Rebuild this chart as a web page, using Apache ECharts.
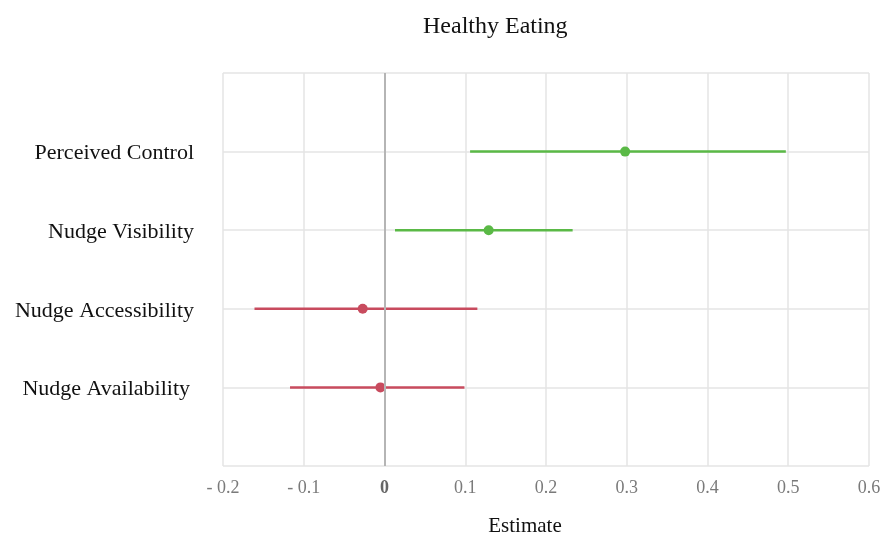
<!DOCTYPE html>
<html><head><meta charset="utf-8">
<script src="https://cdn.jsdelivr.net/npm/echarts@6/dist/echarts.min.js"></script>
<style>html,body{margin:0;padding:0;background:#fff}#c{width:880px;height:536px}</style>
</head><body><div id="c"></div>
<script>
const categories = ['Nudge Availability', 'Nudge Accessibility', 'Nudge Visibility', 'Perceived Control'];
const estimates = [-0.005, -0.027, 0.129, 0.298];
const lowerCI = [-0.117, -0.161, 0.013, 0.106];
const upperCI = [0.099, 0.115, 0.233, 0.497];
const xTicks = [-0.2, -0.1, 0, 0.1, 0.2, 0.3, 0.4, 0.5, 0.6];

const GREEN = '#5ab946', RED = '#c84b5e';
const colorOf = i => (lowerCI[i] > 0 ? GREEN : RED);

const rows = categories.map((c, i) => ({ value: [lowerCI[i], upperCI[i], i + 1, estimates[i]], itemStyle: { color: colorOf(i) } }));
const pts = categories.map((c, i) => ({ value: [estimates[i], i + 1], itemStyle: { color: colorOf(i), opacity: 1 } }));

const font = '"Liberation Serif", "Times New Roman", serif';
const chart = echarts.init(document.getElementById('c'));
chart.setOption({
  animation: false,
  title: { text: 'Healthy Eating', left: 418, top: 10, textStyle: { fontFamily: font, fontSize: 24, fontWeight: 'normal', color: '#111' } },
  grid: { left: 223, right: 11, top: 73, bottom: 70, containLabel: false, outerBoundsMode: 'none' },
  xAxis: {
    type: 'value', min: xTicks[0], max: xTicks[xTicks.length - 1], interval: 0.1,
    name: 'Estimate', nameLocation: 'middle', nameGap: 50,
    nameTextStyle: { fontFamily: font, fontSize: 21, color: '#111', padding: [0, 42, 0, 0] },
    axisLine: { show: false }, axisTick: { show: false },
    axisLabel: {
      margin: 13, fontFamily: font, fontSize: 18, color: '#7a7a7a',
      formatter: v => {
        const r = Math.round(v * 10) / 10;
        if (r === 0) return '{z|0}';
        return r < 0 ? '- ' + Math.abs(r).toFixed(1) : r.toFixed(1);
      },
      rich: { z: { fontFamily: font, fontSize: 18, fontWeight: 'bold', color: '#666' } }
    },
    splitLine: { show: true, lineStyle: { color: '#e4e4e4', width: 1.5 } }
  },
  yAxis: {
    type: 'value', min: 0, max: 5, interval: 1,
    axisLine: { show: false }, axisTick: { show: false },
    axisLabel: {
      margin: 29, fontFamily: font, fontSize: 22, color: '#111',
      formatter: v => {
        const c = categories[v - 1];
        if (!c) return '';
        return v === 1 ? '{p|' + c + '}' : '{n|' + c + '}';
      },
      rich: {
        p: { fontFamily: font, fontSize: 22, color: '#111', padding: [4, 4, 0, 0] },
        n: { fontFamily: font, fontSize: 22, color: '#111', padding: [4, 0, 0, 0] }
      }
    },
    splitLine: { show: true, lineStyle: { color: '#e4e4e4', width: 1.5 } }
  },
  series: [
    {
      type: 'custom',
      data: rows,
      encode: { x: [0, 1], y: 2 },
      renderItem: (params, api) => {
        const a = api.coord([api.value(0), api.value(2)]);
        const b = api.coord([api.value(1), api.value(2)]);
        return { type: 'line', shape: { x1: a[0], y1: a[1], x2: b[0], y2: b[1] }, style: { stroke: api.visual('color'), lineWidth: 2.5 } };
      },
      markLine: {
        silent: true, symbol: 'none', label: { show: false },
        lineStyle: { color: '#b5b5b5', width: 2, type: 'solid' },
        data: [{ xAxis: 0 }]
      },
      z: 3
    },
    {
      type: 'scatter', data: pts, symbol: 'circle', symbolSize: 10, z: 4,
      itemStyle: { opacity: 1 }
    }
  ]
});
</script></body></html>
